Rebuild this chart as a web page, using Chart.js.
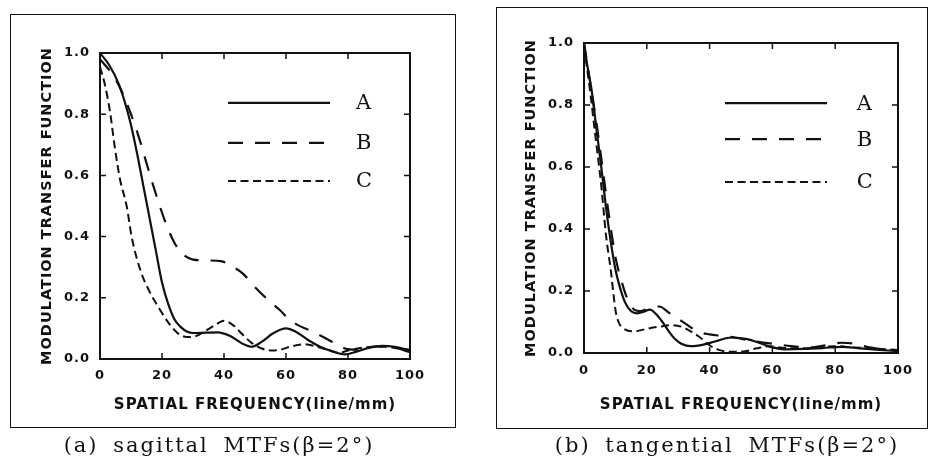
<!DOCTYPE html>
<html><head><meta charset="utf-8">
<script src="https://cdn.jsdelivr.net/npm/chart.js@4.4.0/dist/chart.umd.min.js"></script>
<style>
html,body{margin:0;padding:0;background:#fff;}
body{width:930px;height:456px;position:relative;overflow:hidden;}
.frame{position:absolute;border:1.5px solid #111;box-sizing:border-box;}
.cap{position:absolute;font-family:"DejaVu Serif",serif;font-size:21px;line-height:24px;letter-spacing:2px;word-spacing:6px;color:#111;white-space:nowrap;text-align:center;}
canvas{position:absolute;top:0;}
</style></head><body>
<div class="frame" style="left:10px;top:14px;width:446px;height:414px"></div>
<div class="frame" style="left:496px;top:7px;width:432px;height:422px"></div>
<canvas id="c1" width="465" height="456" style="left:0px"></canvas>
<canvas id="c2" width="465" height="456" style="left:465px"></canvas>
<div class="cap" style="left:19px;width:400px;top:433px">(a) sagittal MTFs(β=2°)</div>
<div class="cap" style="left:527px;width:400px;top:433px">(b) tangential MTFs(β=2°)</div>
<script>
// ---- tick labels / categories ----
const xTicks = [0, 20, 40, 60, 80, 100];
const yTicks = [0, 0.2, 0.4, 0.6, 0.8, 1.0];
const seriesNames = ['A', 'B', 'C'];
const xTitle = 'SPATIAL FREQUENCY(line/mm)';
const yTitle = 'MODULATION TRANSFER FUNCTION';

// ---- (a) sagittal ----
const sagFreqA = [0, 3, 6, 8, 10, 12, 14, 16, 18, 20, 22, 24, 26, 28, 30, 34, 38, 42, 46, 49, 52, 56, 60, 63, 67, 71, 75, 79, 83, 87, 91, 95, 100];
const sagMtfA  = [1.0, 0.96, 0.90, 0.84, 0.765, 0.67, 0.565, 0.46, 0.355, 0.25, 0.18, 0.13, 0.105, 0.09, 0.085, 0.086, 0.087, 0.075, 0.05, 0.04, 0.055, 0.085, 0.10, 0.09, 0.063, 0.04, 0.025, 0.015, 0.025, 0.037, 0.043, 0.04, 0.028];
const sagFreqB = [0, 4, 7, 10, 13, 15, 18, 21, 24, 27, 30, 35, 39, 43, 46, 50, 54, 58, 61, 64, 68, 72, 76, 80, 84, 88, 92, 96, 100];
const sagMtfB  = [0.98, 0.93, 0.875, 0.80, 0.71, 0.64, 0.54, 0.45, 0.38, 0.34, 0.325, 0.322, 0.32, 0.30, 0.28, 0.235, 0.195, 0.16, 0.13, 0.11, 0.092, 0.072, 0.05, 0.032, 0.03, 0.04, 0.042, 0.035, 0.022];
const sagFreqC = [0, 1.5, 3.2, 4.8, 6.5, 8.6, 10.2, 13.2, 16, 19.4, 22, 25, 28, 31, 34, 37, 40, 43, 46, 49, 52, 55, 58, 62, 66, 70, 74, 77, 80, 84, 88, 92, 96, 100];
const sagMtfC  = [0.955, 0.90, 0.81, 0.69, 0.585, 0.50, 0.40, 0.285, 0.22, 0.16, 0.12, 0.085, 0.072, 0.075, 0.092, 0.11, 0.125, 0.11, 0.08, 0.052, 0.035, 0.028, 0.03, 0.042, 0.048, 0.04, 0.028, 0.02, 0.028, 0.036, 0.04, 0.04, 0.035, 0.03];

// ---- (b) tangential ----
const tanFreqA = [0, 1, 2.4, 4, 5.5, 7, 8.5, 10, 11.5, 13, 15, 17, 19, 21, 23, 25, 27, 29, 31, 34, 38, 42, 47, 52, 56, 60, 64, 70, 76, 82, 88, 94, 100];
const tanMtfA  = [1.0, 0.93, 0.85, 0.72, 0.60, 0.47, 0.36, 0.27, 0.21, 0.165, 0.135, 0.128, 0.133, 0.14, 0.125, 0.10, 0.07, 0.045, 0.03, 0.022, 0.027, 0.038, 0.05, 0.045, 0.032, 0.018, 0.012, 0.013, 0.016, 0.02, 0.015, 0.01, 0.006];
const tanFreqB = [0, 2, 4, 6, 8, 10, 12, 14, 16, 18, 21, 24, 27, 30, 33, 36, 40, 44, 48, 52, 56, 60, 66, 72, 77, 82, 86, 90, 95, 100];
const tanMtfB  = [1.0, 0.87, 0.74, 0.59, 0.44, 0.31, 0.23, 0.17, 0.14, 0.135, 0.145, 0.15, 0.13, 0.11, 0.09, 0.07, 0.06, 0.055, 0.05, 0.042, 0.035, 0.03, 0.022, 0.018, 0.025, 0.033, 0.03, 0.02, 0.012, 0.008];
const tanFreqC = [0, 2, 3.5, 5.5, 7, 8.5, 10, 11, 12.5, 16, 20, 24, 28, 31, 34, 37, 40, 43, 47, 51, 55, 59, 64, 70, 76, 80, 86, 92, 100];
const tanMtfC  = [0.99, 0.84, 0.71, 0.54, 0.38, 0.27, 0.14, 0.10, 0.08, 0.07, 0.078, 0.085, 0.09, 0.085, 0.07, 0.05, 0.025, 0.01, 0.004, 0.005, 0.015, 0.022, 0.016, 0.015, 0.02, 0.022, 0.018, 0.015, 0.01];

const lineStyles = [
  {dash: [], width: 2.2},
  {dash: [15, 12], width: 2.2},
  {dash: [8, 4.5], width: 2.0}
];

function pts(f, v) { return f.map((x, i) => ({x: x, y: v[i]})); }

const boldSans = (size) => ({family: 'DejaVu Sans', weight: 'bold', size: size});

const spacingPlugin = {
  id: 'spacing',
  beforeDraw(chart) { chart.ctx.letterSpacing = '1px'; }
};

const framePlugin = {
  id: 'plotFrame',
  afterDatasetsDraw(chart) {
    const {ctx, chartArea: a, scales} = chart;
    ctx.save();
    ctx.strokeStyle = '#111';
    ctx.lineWidth = 2;
    ctx.setLineDash([]);
    ctx.strokeRect(a.left, a.top, a.right - a.left, a.bottom - a.top);
    ctx.lineWidth = 1.5;
    const L = 6;
    ctx.beginPath();
    xTicks.slice(1, -1).forEach(v => {
      const px = scales.x.getPixelForValue(v);
      ctx.moveTo(px, a.bottom); ctx.lineTo(px, a.bottom - L);
      ctx.moveTo(px, a.top); ctx.lineTo(px, a.top + L);
    });
    yTicks.slice(1, -1).forEach(v => {
      const py = scales.y.getPixelForValue(v);
      ctx.moveTo(a.left, py); ctx.lineTo(a.left + L, py);
      ctx.moveTo(a.right, py); ctx.lineTo(a.right - L, py);
    });
    ctx.stroke();
    ctx.restore();
  }
};

const keyPlugin = {
  id: 'inKey',
  afterDatasetsDraw(chart, args, opts) {
    const {ctx, scales} = chart;
    ctx.save();
    ctx.letterSpacing = '0px';
    const x0 = scales.x.getPixelForValue(opts.x0);
    const x1 = scales.x.getPixelForValue(opts.x1);
    const xl = scales.x.getPixelForValue(opts.xLabel);
    chart.data.datasets.forEach((ds, i) => {
      const y = scales.y.getPixelForValue(opts.ys[i]);
      ctx.strokeStyle = '#111';
      ctx.lineWidth = ds.borderWidth;
      ctx.setLineDash(ds.borderDash || []);
      ctx.beginPath();
      ctx.moveTo(x0, y); ctx.lineTo(x1, y);
      ctx.stroke();
      ctx.setLineDash([]);
      ctx.fillStyle = '#111';
      ctx.font = '21px "DejaVu Serif"';
      ctx.textAlign = 'left';
      ctx.textBaseline = 'middle';
      ctx.fillText(ds.label, xl, y + 1);
    });
    ctx.restore();
  }
};

function makeChart(id, series, lay, key) {
  const datasets = series.map((s, i) => ({
    label: seriesNames[i],
    data: pts(s[0], s[1]),
    borderColor: '#111',
    borderWidth: lineStyles[i].width,
    borderDash: lineStyles[i].dash,
    pointRadius: 0,
    fill: false,
    cubicInterpolationMode: 'monotone'
  }));
  return new Chart(document.getElementById(id), {
    type: 'line',
    data: {datasets: datasets},
    options: {
      responsive: false,
      animation: false,
      devicePixelRatio: 1,
      layout: {padding: lay.padding},
      plugins: {legend: {display: false}, tooltip: {enabled: false}, inKey: key},
      scales: {
        x: {
          type: 'linear', min: 0, max: 100, position: 'bottom',
          afterBuildTicks: s => { s.ticks = xTicks.map(v => ({value: v})); },
          ticks: {font: boldSans(13), color: '#111', padding: lay.xTickPad, maxRotation: 0, autoSkip: false, callback: v => String(v)},
          grid: {display: false, drawTicks: false},
          border: {display: false},
          title: {display: true, text: xTitle, font: boldSans(15), color: '#111', padding: {top: 0, bottom: lay.xTitlePad}},
          afterFit: s => { s.height = lay.xHeight; }
        },
        y: {
          type: 'linear', min: 0, max: 1, position: 'left',
          afterBuildTicks: s => { s.ticks = yTicks.map(v => ({value: v})); },
          ticks: {font: boldSans(13), color: '#111', padding: 10, autoSkip: false, callback: v => Number(v).toFixed(1)},
          grid: {display: false, drawTicks: false},
          border: {display: false},
          title: {display: true, text: yTitle, font: boldSans(14.5), color: '#111', padding: {top: lay.yTitlePad, bottom: 0}},
          afterFit: s => { s.width = lay.yWidth; }
        }
      }
    },
    plugins: [spacingPlugin, framePlugin, keyPlugin]
  });
}

makeChart('c1',
  [[sagFreqA, sagMtfA], [sagFreqB, sagMtfB], [sagFreqC, sagMtfC]],
  {padding: {left: 30, top: 53, right: 55, bottom: 37}, yWidth: 70, xHeight: 60, xTickPad: 9, xTitlePad: 5, yTitlePad: 8.8},
  {x0: 41.3, x1: 74.2, xLabel: 82.6, ys: [0.837, 0.706, 0.582]}
);
makeChart('c2',
  [[tanFreqA, tanMtfA], [tanFreqB, tanMtfB], [tanFreqC, tanMtfC]],
  {padding: {left: 50, top: 43, right: 32, bottom: 41}, yWidth: 69, xHeight: 62, xTickPad: 10, xTitlePad: 1, yTitlePad: 7.3},
  {x0: 44.9, x1: 77.4, xLabel: 86.9, ys: [0.806, 0.690, 0.552]}
);
</script>
</body></html>
